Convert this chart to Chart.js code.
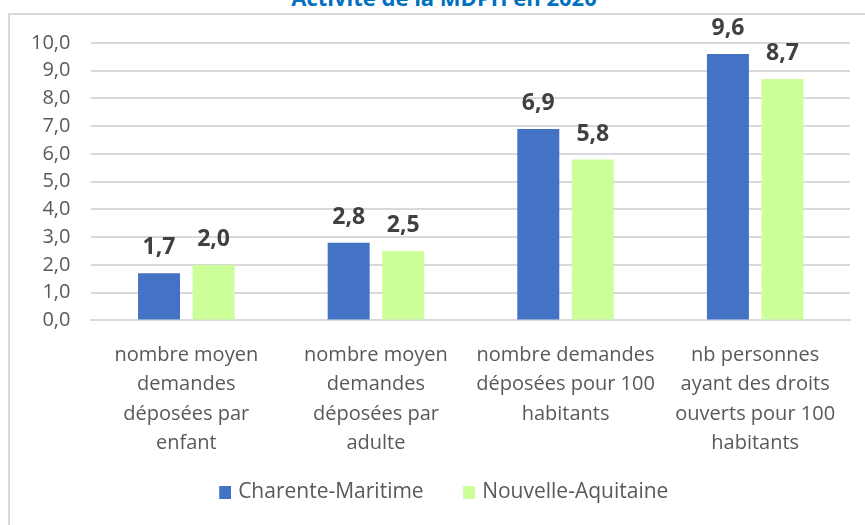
<!DOCTYPE html>
<html lang="fr">
<head>
    <meta charset="UTF-8">
    <title>Activité de la MDPH en 2020</title>
    <script src="https://cdn.jsdelivr.net/npm/chart.js"></script>
    <style>
        body {
            margin: 0;
            background: #fff;
        }

        #wrap {
            position: relative;
            width: 865px;
            height: 525px;
            overflow: hidden;
        }

        #frame {
            position: absolute;
            left: 8px;
            top: 13px;
            width: 900px;
            height: 600px;
            border-left: 2px solid #d9d9d9;
            border-top: 2px solid #d9d9d9;
        }

        #title {
            position: absolute;
            left: 0;
            width: 888px;
            top: -14px;
            text-align: center;
            font: bold 22px/22px "Open Sans", sans-serif;
            color: #0070c0;
        }

        canvas {
            position: absolute;
            left: 0;
            top: 0;
        }
    </style>
</head>
<body>
    <div id="wrap">
        <div id="title">Activité de la MDPH en 2020</div>
        <div id="frame"></div>
        <canvas id="mdphChart" width="865" height="525"></canvas>
    </div>

    <script>
        const categories = [
            ['nombre moyen', 'demandes', 'déposées par', 'enfant'],
            ['nombre moyen', 'demandes', 'déposées par', 'adulte'],
            ['nombre demandes', 'déposées pour 100', 'habitants'],
            ['nb personnes', 'ayant des droits', 'ouverts pour 100', 'habitants']
        ];
        const charenteMaritime = [1.7, 2.8, 6.9, 9.6];
        const nouvelleAquitaine = [2.0, 2.5, 5.8, 8.7];

        const frNumber = v => v.toFixed(1).replace('.', ',');

        // petit carré de légende, collé à droite d'une zone vide (espacement façon Excel)
        function swatch(color) {
            const c = document.createElement('canvas');
            c.width = 43;
            c.height = 13;
            const g = c.getContext('2d');
            g.fillStyle = color;
            g.fillRect(31, 0, 12, 13);
            return c;
        }

        // valeurs au-dessus des barres
        const valueLabels = {
            id: 'valueLabels',
            afterDatasetsDraw(chart) {
                const ctx = chart.ctx;
                ctx.save();
                ctx.font = 'bold 23px "Open Sans", sans-serif';
                ctx.fillStyle = '#404040';
                ctx.textAlign = 'center';
                ctx.textBaseline = 'alphabetic';
                chart.data.datasets.forEach((ds, i) => {
                    chart.getDatasetMeta(i).data.forEach((bar, j) => {
                        ctx.fillText(frNumber(ds.data[j]), bar.x, bar.y - 19);
                    });
                });
                ctx.restore();
            }
        };

        const ctx = document.getElementById('mdphChart').getContext('2d');
        new Chart(ctx, {
            type: 'bar',
            data: {
                labels: categories,
                datasets: [
                    {
                        label: 'Charente-Maritime',
                        data: charenteMaritime,
                        backgroundColor: '#4472c4',
                        pointStyle: swatch('#4472c4')
                    },
                    {
                        label: 'Nouvelle-Aquitaine',
                        data: nouvelleAquitaine,
                        backgroundColor: '#ccff99',
                        pointStyle: swatch('#ccff99')
                    }
                ]
            },
            options: {
                responsive: false,
                animation: false,
                categoryPercentage: 0.575,
                barPercentage: 0.77,
                layout: {
                    padding: { top: 43, left: 10, right: 15, bottom: 12 }
                },
                plugins: {
                    legend: {
                        position: 'bottom',
                        labels: {
                            usePointStyle: true,
                            pointStyleWidth: 36,
                            padding: 12,
                            color: '#595959',
                            font: { family: 'Open Sans', size: 21 }
                        }
                    },
                    tooltip: { enabled: false }
                },
                scales: {
                    x: {
                        grid: { display: false },
                        border: { color: '#d9d9d9', width: 2 },
                        ticks: {
                            padding: 12,
                            color: '#595959',
                            maxRotation: 0,
                            font: { family: 'Open Sans', size: 20, lineHeight: 1.47 }
                        }
                    },
                    y: {
                        min: 0,
                        max: 10,
                        grid: { color: '#d9d9d9', lineWidth: 2, drawTicks: false },
                        border: { display: false },
                        ticks: {
                            stepSize: 1,
                            autoSkip: false,
                            padding: 21,
                            color: '#595959',
                            font: { family: 'Open Sans', size: 20 },
                            callback: v => frNumber(v)
                        }
                    }
                }
            },
            plugins: [valueLabels]
        });
    </script>
</body>
</html>
